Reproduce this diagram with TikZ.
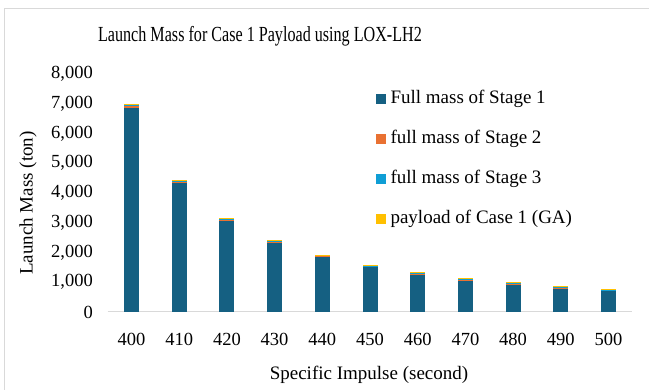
\documentclass[tikz,border=0pt]{standalone}
\usepackage{fontspec}
\setmainfont{Liberation Serif}
\definecolor{sone}{HTML}{156082}
\definecolor{stwo}{HTML}{E97132}
\definecolor{sthree}{HTML}{0F9ED5}
\definecolor{pay}{HTML}{FFC000}
\definecolor{frame}{HTML}{D9D9D9}
\begin{document}
\begin{tikzpicture}[x=1pt,y=-1pt,
  tick/.style={font=\fontsize{18.5}{20}\selectfont},
  axtitle/.style={font=\fontsize{19}{21}\selectfont},
  legtext/.style={font=\fontsize{19}{21}\selectfont, anchor=west},
  legsq/.style={minimum size=9.5pt, inner sep=0pt}]
\useasboundingbox (0,0) rectangle (649,390);
\fill[white] (0,0) rectangle (649,390);
\draw[frame] (4,392) -- (4,8) -- (651,8);
% title
\node (title) at (260,36) {\fontsize{21.5}{24}\selectfont\scalebox{0.75}[1]{Launch Mass for Case 1 Payload using LOX-LH2}};
% axis
\coordinate (axl) at (107.5,312);
\coordinate (axr) at (632,312);
\draw[frame, line width=1pt] (axl) -- (axr);
% y ticks
\foreach \v/\l in {0/0,1/{1,000},2/{2,000},3/{3,000},4/{4,000},5/{5,000},6/{6,000},7/{7,000},8/{8,000}}{
  \node[tick, anchor=east, inner sep=0pt] (yt\v) at (93,312-29.75*\v) {\l};
}
\node[rotate=90, axtitle] (ytitle) at (28,203) {Launch Mass (ton)};
% bars
\foreach \i/\lab/\a/\b/\c/\d in {0/400/6870/60/15/30,1/410/4340/55/12/30,2/420/3060/60/12/30,3/430/2320/60/12/30,4/440/1840/50/10/30,5/450/1500/45/10/30,6/460/1245/50/10/30,7/470/1050/50/10/30,8/480/915/40/10/30,9/490/785/40/8/30,10/500/705/40/8/30}{
  \pgfmathsetmacro{\xc}{131.5+47.7*\i}
  \pgfmathsetmacro{\ya}{312-\a*0.02975}
  \pgfmathsetmacro{\yb}{\ya-\b*0.02975}
  \pgfmathsetmacro{\yc}{\yb-\c*0.02975}
  \pgfmathsetmacro{\yd}{\yc-\d*0.02975}
  \fill[sone] (\xc-7.5,312) rectangle (\xc+7.5,\ya);
  \fill[stwo] (\xc-7.5,\ya) rectangle (\xc+7.5,\yb);
  \fill[sthree] (\xc-7.5,\yb) rectangle (\xc+7.5,\yc);
  \fill[pay] (\xc-7.5,\yc) rectangle (\xc+7.5,\yd);
  \node[tick] (xt\i) at (\xc,339) {\lab};
}
\node[axtitle] (xtitle) at (369,375) {Specific Impulse (second)};
% legend
\foreach \k/\c/\t in {0/sone/Full mass of Stage 1,1/stwo/full mass of Stage 2,2/sthree/full mass of Stage 3,3/pay/payload of Case 1 (GA)}{
  \node[legsq, fill=\c] (lsq\k) at (381,99+40*\k) {};
  \node[legtext] (lt\k) at (387,99+40*\k) {\t};
}
\end{tikzpicture}
\end{document}
